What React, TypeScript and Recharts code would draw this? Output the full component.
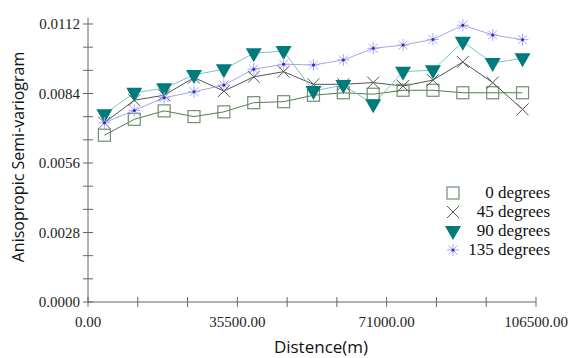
import { LineChart, Line, XAxis, YAxis } from "recharts";

// lag distances (m)
const distances = [3900, 11000, 18100, 25200, 32300, 39400, 46500, 53600, 60700, 67800, 74900, 82000, 89100, 96200, 103300];

const deg0 = [0.00672, 0.00736, 0.0077, 0.00747, 0.00766, 0.00803, 0.00807, 0.00833, 0.00843, 0.00837, 0.00853, 0.00853, 0.00843, 0.00843, 0.00843];
const deg45 = [0.00722, 0.00813, 0.00833, 0.00904, 0.0085, 0.00907, 0.00928, 0.00877, 0.00877, 0.00884, 0.0087, 0.00894, 0.00967, 0.00884, 0.00776];
const deg90 = [0.00756, 0.00843, 0.00861, 0.00915, 0.00938, 0.01002, 0.01011, 0.0085, 0.00874, 0.00797, 0.00928, 0.00934, 0.01048, 0.00963, 0.00982];
const deg135 = [0.00722, 0.00772, 0.00823, 0.00847, 0.00874, 0.00938, 0.00958, 0.00955, 0.00975, 0.01022, 0.01035, 0.01058, 0.01115, 0.01076, 0.01057];

const seriesNames = ["0 degrees", "45 degrees", "90 degrees", "135 degrees"];

const xTicks = [0, 11833.33, 23666.67, 35500, 47333.33, 59166.67, 71000, 82833.33, 94666.67, 106500];
const xLabels = [0, 35500, 71000, 106500];
const yTicks = [0, 0.000933, 0.001867, 0.0028, 0.003733, 0.004667, 0.0056, 0.006533, 0.007467, 0.0084, 0.009333, 0.010267, 0.0112];
const yLabels = [0, 0.0028, 0.0056, 0.0084, 0.0112];

const data = distances.map((d, i) => ({
  dist: d,
  d0: deg0[i],
  d45: deg45[i],
  d90: deg90[i],
  d135: deg135[i],
}));

const W = 569;
const H = 358;
const LEFT = 88;
const TOP = 24;
const BOTTOM = 302;
const AXIS = "#666";
const SERIF = "'Liberation Serif', 'DejaVu Serif', 'Noto Serif', Tinos, 'Times New Roman', Times, serif";
const SANS = "'Open Sans', 'Noto Sans', sans-serif";

// eslint-disable-next-line @typescript-eslint/no-explicit-any
const YTick = (props: any) => {
  const { y, payload } = props;
  const v = payload.value;
  const lab = yLabels.some((l) => Math.abs(l - v) < 1e-6);
  return (
    <g>
      <line x1={LEFT - 5} x2={LEFT + 5} y1={y} y2={y} stroke={AXIS} />
      {v === 0.0112 && <line x1={LEFT} x2={LEFT} y1={y - 6} y2={y} stroke={AXIS} />}
      {lab && (
        <text x={LEFT - 8} y={y} dy={5} textAnchor="end" fontFamily={SERIF} fontSize={15} fill="#222">
          {v.toFixed(4)}
        </text>
      )}
    </g>
  );
};

// eslint-disable-next-line @typescript-eslint/no-explicit-any
const XTick = (props: any) => {
  const { x, payload } = props;
  const v = payload.value;
  const lab = xLabels.some((l) => Math.abs(l - v) < 1);
  return (
    <g>
      <line x1={x} x2={x} y1={BOTTOM - 5} y2={BOTTOM + 5} stroke={AXIS} />
      {lab && (
        <text x={x} y={BOTTOM + 25} textAnchor="middle" fontFamily={SERIF} fontSize={15} fill="#222">
          {v.toFixed(2)}
        </text>
      )}
    </g>
  );
};

const Square = ({ cx, cy }: { cx: number; cy: number }) => (
  <rect x={cx - 6} y={cy - 6} width={12} height={12} fill="none" stroke="#6f8f6f" strokeWidth={1.2} />
);
const Cross = ({ cx, cy }: { cx: number; cy: number }) => (
  <g stroke="#555" strokeWidth={1}>
    <line x1={cx - 6} y1={cy - 6} x2={cx + 6} y2={cy + 6} />
    <line x1={cx - 6} y1={cy + 6} x2={cx + 6} y2={cy - 6} />
  </g>
);
const Tri = ({ cx, cy }: { cx: number; cy: number }) => (
  <polygon points={`${cx - 8},${cy - 5} ${cx + 8},${cy - 5} ${cx},${cy + 9}`} fill="#007b7b" />
);
const Star = ({ cx, cy }: { cx: number; cy: number }) => (
  <g>
    <g stroke="#a8a8f0" strokeWidth={1}>
      <line x1={cx - 6} y1={cy} x2={cx + 6} y2={cy} />
      <line x1={cx} y1={cy - 6} x2={cx} y2={cy + 6} />
      <line x1={cx - 4.5} y1={cy - 4.5} x2={cx + 4.5} y2={cy + 4.5} />
      <line x1={cx - 4.5} y1={cy + 4.5} x2={cx + 4.5} y2={cy - 4.5} />
    </g>
    <circle cx={cx} cy={cy} r={1.5} fill="#2a2ad0" />
  </g>
);

// eslint-disable-next-line @typescript-eslint/no-explicit-any
const dotOf = (Mark: any) => (p: any) => <Mark key={`${p.dataKey}-${p.index}`} cx={p.cx} cy={p.cy} />;

const legendMarks = [Square, Cross, Tri, Star];
const legendY = [193, 212, 231, 250];

export default function App() {
  return (
    <div style={{ position: "absolute", left: 0, top: 0, width: W, height: H, background: "#fff" }}>
      <LineChart width={W} height={H} data={data} margin={{ top: TOP, right: W - LEFT - 448, left: 0, bottom: 0 }}>
        <XAxis
          dataKey="dist"
          type="number"
          domain={[0, 106500]}
          ticks={xTicks}
          interval={0}
          height={H - BOTTOM}
          stroke={AXIS}
          tickLine={false}
          tick={XTick}
        />
        <YAxis
          type="number"
          domain={[0, 0.0112]}
          ticks={yTicks}
          interval={0}
          width={LEFT}
          stroke={AXIS}
          tickLine={false}
          tick={YTick}
        />
        <Line dataKey="d0" stroke="#4f7d4f" strokeWidth={1} dot={dotOf(Square)} isAnimationActive={false} />
        <Line dataKey="d45" stroke="#555" strokeWidth={1} dot={dotOf(Cross)} isAnimationActive={false} />
        <Line dataKey="d90" stroke="#7cc4c4" strokeWidth={1} dot={dotOf(Tri)} isAnimationActive={false} />
        <Line dataKey="d135" stroke="#aaa4e4" strokeWidth={1} dot={dotOf(Star)} isAnimationActive={false} />
        <text
          transform="translate(24 157) rotate(-90)"
          textAnchor="middle"
          fontFamily={SANS}
          fontSize={16}
          fill="#111"
        >
          Anisopropic Semi-variogram
        </text>
        <text x={321} y={353} textAnchor="middle" fontFamily={SANS} fontSize={17} fill="#111">
          Distence(m)
        </text>
      </LineChart>
      {seriesNames.map((name, i) => {
        const Mark = legendMarks[i];
        return (
          <div key={name}>
            <svg width={20} height={20} style={{ position: "absolute", left: 443, top: legendY[i] - 10 }}>
              <Mark cx={10} cy={10} />
            </svg>
            <div
              style={{
                position: "absolute",
                right: W - 550,
                top: legendY[i] - 11,
                height: 22,
                lineHeight: "22px",
                fontFamily: SERIF,
                fontSize: 17,
                color: "#111",
                whiteSpace: "nowrap",
              }}
            >
              {name}
            </div>
          </div>
        );
      })}
    </div>
  );
}
